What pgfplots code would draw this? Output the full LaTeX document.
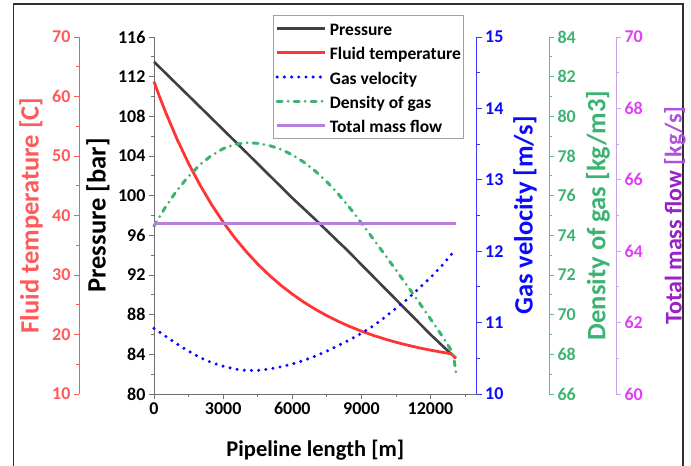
\documentclass[border=0pt]{standalone}
\usepackage{fontspec}
\setmainfont{Carlito}
\usepackage{pgfplots}
\pgfplotsset{compat=1.18}
\definecolor{presc}{HTML}{404040}
\definecolor{axgray}{HTML}{707070}
\definecolor{tempc}{HTML}{FF3535}
\definecolor{tempax}{HTML}{FF5A5A}
\definecolor{velc}{HTML}{0A0AFF}
\definecolor{velax}{HTML}{3838FF}
\definecolor{denc}{HTML}{3CB371}
\definecolor{denax}{HTML}{5CBF85}
\definecolor{massc}{HTML}{B580E0}
\definecolor{massax}{HTML}{C8A2E8}
\definecolor{masstick}{HTML}{E040F5}
\definecolor{masslab}{HTML}{9A20C8}
\definecolor{masslab2}{HTML}{B050E0}
\definecolor{leggray}{HTML}{A0A0A0}
\definecolor{framec}{HTML}{303030}
\newcommand\fs[1]{\fontsize{#1}{#1}\selectfont\bfseries}

\pgfplotstableread{
x p
0 113.5
1000 111.22
2000 108.94
3000 106.66
4000 104.37
5000 102.07
6000 99.77
7000 97.6
8000 95.35
8300 94.7
9000 93.05
10000 90.7
11000 88.35
12000 86.0
12500 84.9
13100 83.6
}\prestab

\pgfplotstableread{
x t
0 62.5
250 59.86
500 57.40
1000 52.83
1500 48.75
2000 45.10
2500 41.83
3000 38.90
3500 36.28
4000 33.94
4500 31.84
5000 29.97
5500 28.29
6000 26.79
6500 25.44
7000 24.24
7500 23.16
8000 22.20
8500 21.33
9000 20.56
9500 19.87
10000 19.26
10500 18.70
11000 18.21
11500 17.76
12000 17.37
12500 17.02
12900 16.76
13100 16.0
}\temptab

\pgfplotstableread{
x v
0 10.92
500 10.81
1000 10.70
1500 10.60
2000 10.51
2500 10.44
3000 10.39
3500 10.35
4000 10.33
4500 10.33
5000 10.35
5500 10.38
6000 10.42
6500 10.47
7000 10.53
7500 10.60
8000 10.68
8500 10.76
9000 10.85
9500 10.95
10000 11.07
10500 11.20
11000 11.33
11500 11.48
12000 11.63
12500 11.80
13100 12.03
}\veltab

\pgfplotstableread{
x d
0 74.47
500 75.43
1000 76.27
1500 76.98
2000 77.57
2500 78.03
3000 78.37
3500 78.58
4000 78.67
4500 78.64
5000 78.53
5500 78.34
6000 78.06
6500 77.69
7000 77.24
7500 76.70
8000 76.08
8500 75.38
9000 74.62
9500 73.84
10000 73.05
10500 72.25
11000 71.44
11500 70.62
12000 69.78
12500 68.93
12900 68.2
13000 67.9
13100 67.1
}\dentab

\pgfplotstableread{
x m
0 64.78
13100 64.78
}\masstab

\pgfplotsset{
  base/.style={scale only axis, height=357bp, anchor=south west, clip=false,
    /pgf/number format/assume math mode=true, /pgf/number format/1000 sep={},
    scaled ticks=false,
    tick align=outside, major tick length=5bp, minor tick length=3bp,
    tick label style={font=\fs{18bp}},
    every axis y label/.style={rotate=90, anchor=center},
  },
  presstyle/.style={color=presc, line width=2.6bp, line join=round},
  tempstyle/.style={color=tempc, line width=2.8bp, line join=round},
  velstyle/.style={color=velc, line width=3.4bp, line cap=round, dash pattern=on 0bp off 7.2bp},
  denstyle/.style={color=denc, line width=3bp, line cap=round, dash pattern=on 5bp off 6bp on 0bp off 6bp},
  massstyle/.style={color=massc, line width=3.5bp},
}

\begin{document}
\begin{tikzpicture}
\useasboundingbox (0,0) rectangle (691bp,466bp);
\draw[line width=1.3bp, color=framec] (13.5bp,0) -- (13.5bp,462bp) -- (683bp,462bp) -- (683bp,0);

% main pressure axis
\begin{axis}[base, at={(154bp,72bp)}, width=322.6bp,
  xmin=0, xmax=14000, ymin=80, ymax=116,
  axis x line*=bottom, axis y line*=left,
  xtick={0,3000,...,12000}, minor xtick={1500,4500,...,13500},
  ytick={80,84,...,116}, minor ytick={82,86,...,114},
  axis line style={draw=axgray, line width=1bp},
  tick style={draw=axgray, line width=0.8bp},
  xlabel={Pipeline length [m]}, ylabel={Pressure [bar]},
  every axis x label/.style={at={(axis description cs:0.5,-0.157)}, anchor=center, font=\fs{22.5bp}},
  ylabel style={at={(axis description cs:-0.1736,0.5)}, font=\fs{26.5bp}},
]
\addplot[presstyle] table[x=x,y=p] {\prestab};
\end{axis}

% fluid temperature axis (left, red)
\begin{axis}[base, at={(79bp,72bp)}, width=397.6bp,
  xmin=-3254.6, xmax=14000, ymin=10, ymax=70,
  axis x line=none, axis y line*=left,
  ytick={10,20,...,70}, minor ytick={15,25,...,65},
  axis line style={draw=tempax, line width=1bp},
  tick style={draw=tempax, line width=0.8bp},
  yticklabel style={text=tempax},
  ylabel={Fluid temperature [C]},
  ylabel style={at={(axis description cs:-0.1207,0.5)}, font=\fs{26.5bp}, text=tempax},
]
\addplot[tempstyle] table[x=x,y=t] {\temptab};
\end{axis}

% gas velocity axis (right, blue)
\begin{axis}[base, at={(154bp,72bp)}, width=322.6bp,
  xmin=0, xmax=14000, ymin=10, ymax=15,
  axis x line=none, axis y line*=right,
  ytick={10,11,...,15}, minor ytick={10.5,11.5,...,14.5},
  axis line style={draw=velax, line width=1bp},
  tick style={draw=velax, line width=0.8bp},
  yticklabel style={text=velc},
  ylabel={Gas velocity [m/s]},
  ylabel style={at={(axis description cs:1.150,0.5)}, font=\fs{26.5bp}, text=velc},
]
\addplot[velstyle] table[x=x,y=v] {\veltab};
\end{axis}

% density axis (right, green)
\begin{axis}[base, at={(154bp,72bp)}, width=395bp,
  xmin=0, xmax=17141, ymin=66, ymax=84,
  axis x line=none, axis y line*=right,
  ytick={66,68,...,84}, minor ytick={67,69,...,83},
  axis line style={draw=denax, line width=1bp},
  tick style={draw=denax, line width=0.8bp},
  yticklabel style={text=denc},
  ylabel={Density of gas [kg/m3]},
  ylabel style={at={(axis description cs:1.124,0.5)}, font=\fs{26.5bp}, text=denc},
]
\addplot[denstyle] table[x=x,y=d] {\dentab};
\end{axis}

% total mass flow axis (right, purple) + legend
\begin{axis}[base, at={(154bp,72bp)}, width=462bp,
  xmin=0, xmax=20049, ymin=60, ymax=70,
  axis x line=none, axis y line*=right,
  ytick={60,62,...,70}, minor ytick={61,63,...,69},
  axis line style={draw=massax, line width=1bp},
  tick style={draw=massax, line width=0.8bp},
  yticklabel style={text=masstick},
  ylabel={\textcolor{masslab}{Total mass flow} \textcolor{masslab2}{[kg/s]}},
  ylabel style={at={(axis description cs:1.1277,0.5)}, font=\fs{24bp}},
  legend style={at={(0.2576,1.0616)}, anchor=north west, draw=leggray, line width=0.8bp,
    font=\fs{17.5bp}, inner xsep=2bp, inner ysep=4bp, fill=white,
    nodes={inner sep=0bp, text height=16bp, text depth=2bp}, row sep=6.3bp,
    /tikz/every odd column/.append style={column sep=3bp}},
  legend cell align=left,
  legend image code/.code={\draw[#1] (0bp,0bp) -- (48bp,0bp);},
]
\addlegendimage{presstyle}
\addlegendentry{Pressure}
\addlegendimage{tempstyle}
\addlegendentry{Fluid temperature}
\addlegendimage{velstyle}
\addlegendentry{Gas velocity}
\addlegendimage{denstyle}
\addlegendentry{Density of gas}
\addplot[massstyle] table[x=x,y=m] {\masstab};
\addlegendentry{Total mass flow}
\end{axis}
\end{tikzpicture}
\end{document}
